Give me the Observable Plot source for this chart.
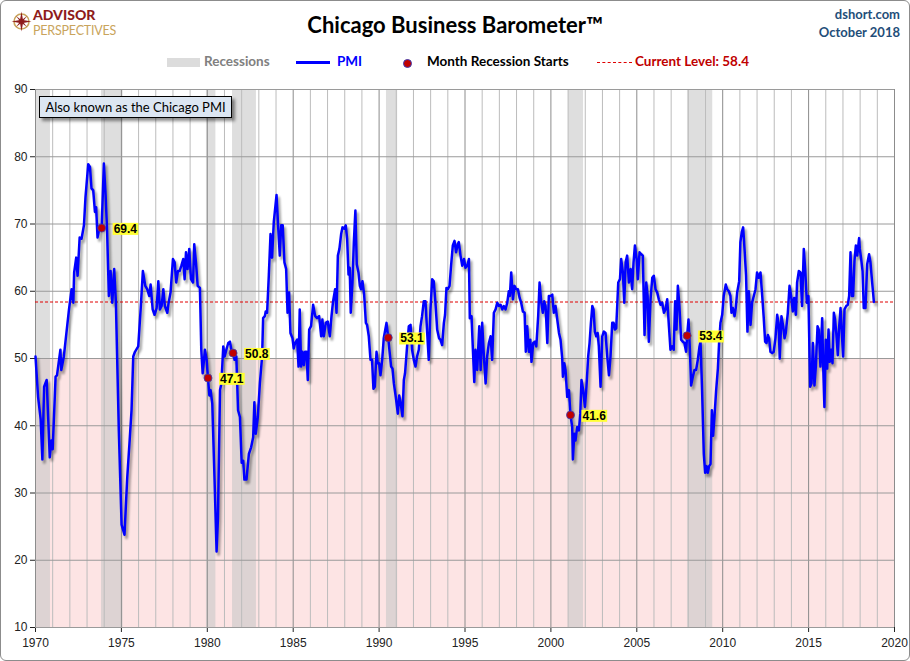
<!DOCTYPE html>
<html><head><meta charset="utf-8">
<script src="https://cdn.jsdelivr.net/npm/d3@7"></script>
<script src="https://cdn.jsdelivr.net/npm/@observablehq/plot@0.6"></script>
<style>
html,body{margin:0;padding:0;background:#fff;overflow:hidden;}
#wrap{position:relative;width:910px;height:661px;overflow:hidden;font-family:Lato,"Open Sans",sans-serif;}
#wrap svg.plot{position:absolute;left:0;top:0;}
#frame{position:absolute;left:0;top:0;width:910px;height:661px;box-sizing:border-box;border:1px solid #8c8c8c;border-radius:6px;pointer-events:none;}
.abs{position:absolute;white-space:nowrap;}
.lt{position:absolute;top:53px;line-height:18px;font:bold 13.5px Lato,sans-serif;white-space:nowrap;}
</style></head>
<body>
<div id="wrap">
  <div id="chart"></div>
  <!-- logo -->
  <svg class="abs" style="left:11px;top:11px" width="21" height="21" viewBox="0 0 21 21">
    <circle cx="10.5" cy="10.5" r="7.5" fill="none" stroke="#c9a45c" stroke-width="1.6"/>
    <polygon points="10.5,0.5 12,9 20.5,10.5 12,12 10.5,20.5 9,12 0.5,10.5 9,9" fill="#8e1b1b"/>
    <polygon points="5,5 11,9.5 16,16 10,11.5" fill="#8e1b1b"/>
    <polygon points="16,5 11.5,11 5,16 9.5,10" fill="#8e1b1b"/>
  </svg>
  <div class="abs" style="left:33px;top:6px;font:900 14px/normal Lato,sans-serif;color:#8e1b1b">ADVISOR</div>
  <div class="abs" style="left:33px;top:23px;font:400 12.5px/normal Lato,sans-serif;color:#c9a45c;letter-spacing:-0.2px">PERSPECTIVES</div>
  <!-- title -->
  <div class="abs" style="left:0;width:910px;top:11px;text-align:center;font:bold 22px Lato,sans-serif;color:#000">Chicago Business Barometer™</div>
  <div class="abs" style="right:10px;top:6px;text-align:right;font:bold 13px Lato,sans-serif;color:#1f4e79">dshort.com</div>
  <div class="abs" style="right:10px;top:24px;text-align:right;font:bold 13px Lato,sans-serif;color:#1f4e79">October 2018</div>
  <!-- legend -->
  <div class="abs" style="left:167px;top:58px;width:33px;height:9px;background:#dcdcdc"></div>
  <div class="lt" style="left:204px;color:#808080">Recessions</div>
  <div class="abs" style="left:296px;top:61px;width:34px;height:3px;background:#0000ff"></div>
  <div class="lt" style="left:337px;color:#0000ff">PMI</div>
  <div class="abs" style="left:403px;top:59px;width:7px;height:7px;border-radius:50%;background:#c00000;border:1px solid #3c3cb4"></div>
  <div class="lt" style="left:427px;color:#000">Month Recession Starts</div>
  <div class="abs" style="left:597px;top:62px;width:35px;height:0;border-top:1px dashed #e00000"></div>
  <div class="lt" style="left:635px;color:#c00000">Current Level: 58.4</div>
  <!-- note box -->
  <div class="abs" style="left:39px;top:96px;width:191px;height:20px;background:#dce6f2;border:1px solid #000;box-shadow:3px 3px 3px rgba(0,0,0,0.45);font:13px Lato,sans-serif;line-height:20px;text-align:center;color:#000">Also known as the Chicago PMI</div>
  <div id="frame"></div>
</div>
<script>
// ---- data (decimal year, PMI value) ----
const pmi1970s = [
[1970.00,50.3],[1970.15,44.3],[1970.30,41.0],[1970.40,35.0],[1970.50,45.8],[1970.65,46.8],[1970.83,35.3],[1970.93,37.8],
[1971.00,36.5],[1971.17,47.3],[1971.25,47.5],[1971.45,51.3],[1971.50,48.3],[1971.65,50.3],[1971.80,53.8],[1971.95,57.3],
[1972.10,60.3],[1972.20,58.3],[1972.25,62.8],[1972.37,65.0],[1972.45,62.3],[1972.57,68.0],[1972.68,67.8],[1972.82,69.8],[1972.91,74.0],
[1973.07,78.9],[1973.17,78.5],[1973.26,75.3],[1973.36,75.0],[1973.46,71.8],[1973.53,72.5],[1973.61,68.0],[1973.71,69.3],[1973.79,69.5],[1973.85,69.4],[1973.98,79.0],
[1974.08,74.3],[1974.17,68.8],[1974.27,59.3],[1974.37,63.0],[1974.47,58.3],[1974.58,63.3],[1974.68,58.3],[1974.85,39.3],
[1975.01,25.3],[1975.18,23.8],[1975.34,32.3],[1975.48,37.8],[1975.59,42.3],[1975.69,50.3],[1975.79,51.0],[1975.98,51.8],
[1976.12,57.3],[1976.25,63.0],[1976.39,60.8],[1976.50,60.3],[1976.62,59.3],[1976.70,61.0],[1976.82,57.3],[1976.93,56.5],
[1977.05,57.5],[1977.15,61.5],[1977.24,57.3],[1977.34,57.8],[1977.44,60.3],[1977.53,57.8],[1977.67,56.8],[1977.75,58.3],[1977.86,59.8],
[1978.00,64.8],[1978.10,64.3],[1978.19,61.3],[1978.29,63.0],[1978.39,63.0],[1978.49,63.8],[1978.60,64.8],[1978.68,61.8],[1978.76,65.8],[1978.85,63.3],[1978.95,66.3],
[1979.05,61.8],[1979.17,61.3],[1979.24,67.0],[1979.34,64.3],[1979.44,60.8],[1979.57,60.5],[1979.65,51.3],[1979.73,47.8],[1979.79,49.3],[1979.86,51.3],[1979.96,49.8]
];
const pmi1980s = [
[1980.04,47.1],[1980.12,44.5],[1980.19,45.3],[1980.29,43.3],[1980.43,31.3],[1980.54,21.3],[1980.62,26.3],[1980.74,45.3],[1980.82,46.3],[1980.93,51.8],
[1981.01,50.3],[1981.11,51.3],[1981.22,52.3],[1981.32,52.5],[1981.40,51.3],[1981.50,50.8],[1981.59,49.8],[1981.69,50.3],[1981.79,42.3],[1981.90,41.3],
[1982.00,34.5],[1982.09,34.8],[1982.16,32.0],[1982.28,32.0],[1982.42,35.8],[1982.55,36.8],[1982.67,38.3],[1982.74,43.5],[1982.82,38.8],[1982.94,41.3],
[1983.06,46.3],[1983.19,50.3],[1983.25,56.0],[1983.35,56.3],[1983.40,57.0],[1983.48,56.8],[1983.58,62.3],[1983.68,68.5],[1983.77,65.0],[1983.87,70.3],
[1984.03,74.3],[1984.12,69.8],[1984.22,65.3],[1984.30,69.8],[1984.39,69.8],[1984.49,64.3],[1984.59,63.3],[1984.67,56.8],[1984.76,59.8],[1984.84,53.8],[1984.96,53.0],
[1985.03,51.5],[1985.11,52.3],[1985.23,52.8],[1985.31,48.8],[1985.38,57.3],[1985.46,48.8],[1985.54,51.0],[1985.62,49.0],[1985.69,51.0],[1985.77,51.0],[1985.85,46.8],[1985.93,54.3],
[1986.04,54.8],[1986.16,58.0],[1986.28,56.3],[1986.39,56.0],[1986.51,56.3],[1986.63,53.3],[1986.70,55.8],[1986.78,53.3],[1986.90,55.3],
[1987.01,55.5],[1987.13,53.3],[1987.23,56.3],[1987.32,58.5],[1987.44,60.3],[1987.52,56.8],[1987.60,65.3],[1987.69,66.3],[1987.79,68.5],[1987.87,69.5],[1987.98,69.3],
[1988.06,69.8],[1988.14,67.8],[1988.22,62.5],[1988.29,63.5],[1988.35,56.8],[1988.45,61.3],[1988.53,67.3],[1988.62,72.0],[1988.70,64.0],[1988.80,62.8],[1988.88,60.8],[1988.95,60.3],
[1989.03,61.5],[1989.13,59.5],[1989.23,55.3],[1989.30,55.0],[1989.40,53.3],[1989.50,49.8],[1989.59,49.8],[1989.67,45.5],[1989.75,45.8],[1989.85,51.0],[1989.92,49.3]
];
const pmi1990s = [
[1990.00,49.3],[1990.08,47.5],[1990.18,49.8],[1990.27,53.0],[1990.43,55.3],[1990.53,53.1],[1990.60,51.3],[1990.70,48.8],[1990.78,48.5],[1990.86,46.3],[1990.97,44.3],
[1991.09,41.8],[1991.17,44.5],[1991.26,43.3],[1991.36,41.4],[1991.44,46.8],[1991.51,47.8],[1991.63,51.8],[1991.73,54.8],[1991.83,55.0],[1991.92,51.3],
[1992.02,49.8],[1992.12,48.8],[1992.21,50.3],[1992.31,51.3],[1992.41,54.8],[1992.50,56.3],[1992.60,58.5],[1992.70,58.5],[1992.80,53.8],[1992.89,49.8],[1992.99,57.3],
[1993.09,61.8],[1993.18,61.5],[1993.28,58.3],[1993.38,54.3],[1993.49,53.0],[1993.57,52.8],[1993.67,52.0],[1993.77,55.3],[1993.84,56.5],[1993.92,60.5],
[1994.00,60.3],[1994.10,60.8],[1994.19,63.8],[1994.29,66.8],[1994.39,67.5],[1994.48,65.8],[1994.58,67.0],[1994.64,67.3],[1994.74,65.3],[1994.84,63.8],[1994.94,64.8],
[1995.03,63.5],[1995.13,63.8],[1995.23,64.8],[1995.28,56.0],[1995.38,56.3],[1995.46,51.3],[1995.54,46.5],[1995.61,51.3],[1995.71,48.3],[1995.83,54.8],[1995.91,48.3],
[1996.00,55.3],[1996.10,50.3],[1996.20,46.3],[1996.29,50.3],[1996.39,52.3],[1996.49,53.3],[1996.58,49.8],[1996.68,56.8],[1996.78,57.3],[1996.88,58.3],[1996.97,57.8],
[1997.07,58.0],[1997.17,57.3],[1997.26,57.8],[1997.36,57.3],[1997.46,58.3],[1997.55,60.0],[1997.61,59.3],[1997.69,62.8],[1997.79,58.8],[1997.88,60.8],[1997.98,60.3],
[1998.08,60.3],[1998.18,59.0],[1998.27,58.3],[1998.37,57.0],[1998.47,56.8],[1998.54,51.0],[1998.62,54.8],[1998.72,51.0],[1998.80,52.8],[1998.87,49.5],[1998.97,52.3],
[1999.07,52.5],[1999.15,51.8],[1999.26,56.3],[1999.34,61.3],[1999.44,58.3],[1999.53,56.8],[1999.61,58.5],[1999.69,57.8],[1999.79,52.3],[1999.88,59.3],[1999.98,59.3]
];
const pmi2000s = [
[2000.08,59.5],[2000.17,56.8],[2000.27,57.8],[2000.37,55.8],[2000.47,53.8],[2000.56,52.8],[2000.66,50.0],[2000.70,47.3],[2000.78,49.3],[2000.85,48.3],[2000.95,44.3],
[2001.05,45.3],[2001.14,41.6],[2001.24,39.8],[2001.28,35.0],[2001.36,38.8],[2001.43,37.8],[2001.53,39.8],[2001.63,39.3],[2001.71,41.8],[2001.78,46.8],[2001.88,45.3],[2001.98,42.8],
[2002.07,45.8],[2002.17,50.3],[2002.25,52.3],[2002.33,55.3],[2002.41,57.8],[2002.48,57.3],[2002.56,54.0],[2002.64,53.3],[2002.72,53.8],[2002.79,51.8],[2002.89,45.8],[2002.99,53.3],
[2003.08,54.0],[2003.18,53.8],[2003.28,50.3],[2003.38,47.5],[2003.47,50.3],[2003.57,55.3],[2003.65,55.3],[2003.72,54.3],[2003.80,54.5],[2003.86,57.8],[2003.92,61.3],
[2004.02,61.8],[2004.09,64.8],[2004.19,62.8],[2004.27,58.3],[2004.35,64.3],[2004.44,65.3],[2004.54,61.3],[2004.64,63.3],[2004.73,60.3],[2004.81,64.3],[2004.89,66.8],[2004.99,64.8],
[2005.06,61.8],[2005.16,65.8],[2005.26,65.5],[2005.35,65.3],[2005.45,53.5],[2005.55,61.3],[2005.63,59.3],[2005.70,52.5],[2005.80,58.8],[2005.90,62.0],[2005.99,62.3],
[2006.09,60.3],[2006.19,59.8],[2006.28,58.8],[2006.38,58.0],[2006.48,58.3],[2006.58,56.8],[2006.67,57.3],[2006.77,58.8],[2006.87,54.8],[2006.96,51.3],
[2007.06,51.8],[2007.15,51.3],[2007.23,58.5],[2007.31,54.3],[2007.39,60.8],[2007.48,57.8],[2007.58,52.8],[2007.68,52.5],[2007.77,52.3],[2007.87,51.0],[2007.93,53.4],
[2008.01,55.8],[2008.09,51.3],[2008.16,46.0],[2008.26,47.3],[2008.36,48.3],[2008.45,48.3],[2008.55,49.8],[2008.65,51.8],[2008.71,52.5],[2008.80,45.3],[2008.90,35.8],[2008.98,33.0],
[2009.06,34.0],[2009.13,33.0],[2009.21,34.0],[2009.29,34.3],[2009.37,42.3],[2009.44,38.5],[2009.52,41.3],[2009.62,45.3],[2009.72,48.5],[2009.79,52.3],[2009.87,55.3],[2009.97,56.5]
];
const pmi2010s = [
[2010.06,59.3],[2010.18,61.0],[2010.26,60.3],[2010.36,60.0],[2010.45,59.3],[2010.51,56.8],[2010.59,57.5],[2010.69,56.3],[2010.76,57.5],[2010.84,59.8],[2010.96,61.5],
[2011.03,67.3],[2011.11,68.8],[2011.19,69.5],[2011.27,66.3],[2011.36,62.3],[2011.44,54.0],[2011.52,60.0],[2011.62,55.0],[2011.71,58.3],[2011.81,59.3],[2011.91,60.3],
[2012.00,62.8],[2012.10,62.0],[2012.20,62.8],[2012.30,59.3],[2012.39,56.0],[2012.47,52.5],[2012.55,52.3],[2012.63,53.5],[2012.70,53.0],[2012.78,51.0],[2012.88,50.8],[2012.97,51.0],
[2013.07,53.0],[2013.17,56.5],[2013.25,55.3],[2013.32,50.0],[2013.42,56.3],[2013.52,54.8],[2013.60,53.0],[2013.67,53.8],[2013.79,56.8],[2013.89,60.8],[2013.98,59.3],
[2014.08,57.0],[2014.16,59.0],[2014.26,56.5],[2014.33,61.3],[2014.43,63.0],[2014.53,62.8],[2014.62,57.8],[2014.72,66.3],[2014.80,63.3],[2014.90,58.3],[2014.99,59.3],
[2015.09,45.8],[2015.17,46.3],[2015.25,52.3],[2015.34,46.0],[2015.42,48.8],[2015.52,54.8],[2015.59,54.3],[2015.69,48.8],[2015.79,56.0],[2015.85,48.8],[2015.92,42.8],
[2016.00,52.8],[2016.08,48.5],[2016.16,54.3],[2016.23,49.5],[2016.31,51.3],[2016.39,49.3],[2016.47,56.8],[2016.54,55.8],[2016.62,53.5],[2016.70,50.5],[2016.78,54.8],[2016.86,57.5],[2016.93,54.0],
[2017.01,50.3],[2017.09,57.3],[2017.19,57.8],[2017.28,58.0],[2017.36,59.3],[2017.44,65.8],[2017.52,59.3],[2017.59,59.3],[2017.67,64.5],[2017.75,66.8],[2017.83,65.3],[2017.94,67.9],[2017.98,66.3],
[2018.06,64.8],[2018.14,63.0],[2018.21,57.5],[2018.31,57.5],[2018.41,64.0],[2018.52,65.5],[2018.60,64.3],[2018.70,61.3],[2018.80,58.4]
];
const recessionStart = [1970.00, 1973.84, 1979.95, 1981.47, 1990.43, 2001.03, 2007.95];
const recessionEnd   = [1970.87, 1975.10, 1980.50, 1982.86, 1991.08, 2001.90, 2009.42];
const recStartYear  = [1973.85, 1980.04, 1981.50, 1990.53, 2001.14, 2007.93];
const recStartValue = [69.4, 47.1, 50.8, 53.1, 41.6, 53.4];
const currentLevel = 58.4;
const xTickYears = [1970,1975,1980,1985,1990,1995,2000,2005,2010,2015,2020];
const yTickValues = [10,20,30,40,50,60,70,80,90];

// ---- build tables ----
const series = [...pmi1970s, ...pmi1980s, ...pmi1990s, ...pmi2000s, ...pmi2010s].map(([year, value]) => ({year, value}));
const recessions = recessionStart.map((s, i) => ({start: s, end: recessionEnd[i]}));
const recPts = recStartYear.map((y, i) => ({year: y, value: recStartValue[i]}));
const allYears = d3.range(1970, 2021);
const minorYears = allYears.filter(y => y % 5 !== 0);

const chart = Plot.plot({
  width: 910, height: 661,
  marginLeft: 35, marginRight: 16, marginTop: 89, marginBottom: 34,
  style: {fontFamily: "'Liberation Sans', Arial, sans-serif", fontSize: "12px", color: "#222", background: "transparent", overflow: "visible"},
  x: {domain: [1970, 2020], ticks: xTickYears, tickFormat: "d", tickSize: 5, tickPadding: 6, label: null},
  y: {domain: [10, 90], ticks: yTickValues, tickSize: 5, tickPadding: 3, label: null},
  marks: [
    Plot.rect([{}], {x1: 1970, x2: 2020, y1: 10, y2: 50, fill: "#fde4e4"}),
    Plot.rect(recessions, {x1: "start", x2: "end", y1: 10, y2: 90, fill: "#c8c8c8", fillOpacity: 0.6}),
    Plot.ruleX(minorYears, {stroke: "#bcbcbc", strokeWidth: 1}),
    Plot.ruleX(xTickYears, {stroke: "#8c8c8c", strokeWidth: 1}),
    Plot.ruleY(yTickValues, {stroke: "#9a9a9a", strokeWidth: 1}),
    Plot.ruleY([currentLevel], {stroke: "#e00000", strokeWidth: 1, strokeDasharray: "3,2"}),
    Plot.line(series, {x: "year", y: "value", stroke: "#000", strokeOpacity: 0.35, strokeWidth: 3, dx: 2, dy: 3}),
    Plot.line(series, {x: "year", y: "value", stroke: "#0000ff", strokeWidth: 2.5}),
    Plot.dot(recPts, {x: "year", y: "value", r: 4, fill: "#c00000", stroke: "#3c3cb4", strokeWidth: 0.8}),
    Plot.text(recPts, {x: "year", y: "value", text: d => d.value.toFixed(1), dx: 12, dy: 1, textAnchor: "start", fontWeight: "bold", fontSize: 12, fill: "#000"})
  ]
});
document.getElementById("chart").appendChild(chart);

// shadow blur for the line
const ns = "http://www.w3.org/2000/svg";
const defs = document.createElementNS(ns, "defs");
const filt = document.createElementNS(ns, "filter");
filt.setAttribute("id", "lineShadow");
filt.setAttribute("x", "-5%"); filt.setAttribute("y", "-5%");
filt.setAttribute("width", "110%"); filt.setAttribute("height", "110%");
const blur = document.createElementNS(ns, "feGaussianBlur");
blur.setAttribute("stdDeviation", "1.3");
filt.appendChild(blur); defs.appendChild(filt);
chart.insertBefore(defs, chart.firstChild);
const lineGroups = chart.querySelectorAll('g[aria-label="line"]');
if (lineGroups.length) lineGroups[0].setAttribute("filter", "url(#lineShadow)");

// yellow boxes behind labels
const tg = chart.querySelector('g[aria-label="text"]');
if (tg) {
  tg.querySelectorAll("text").forEach(t => {
    const b = t.getBBox();
    const r = document.createElementNS(ns, "rect");
    r.setAttribute("x", b.x - 1); r.setAttribute("y", b.y + 1);
    r.setAttribute("width", b.width + 2); r.setAttribute("height", b.height - 2);
    r.setAttribute("fill", "#ffff33");
    if (t.getAttribute("transform")) r.setAttribute("transform", t.getAttribute("transform"));
    tg.insertBefore(r, t);
  });
}
</script>
</body></html>
